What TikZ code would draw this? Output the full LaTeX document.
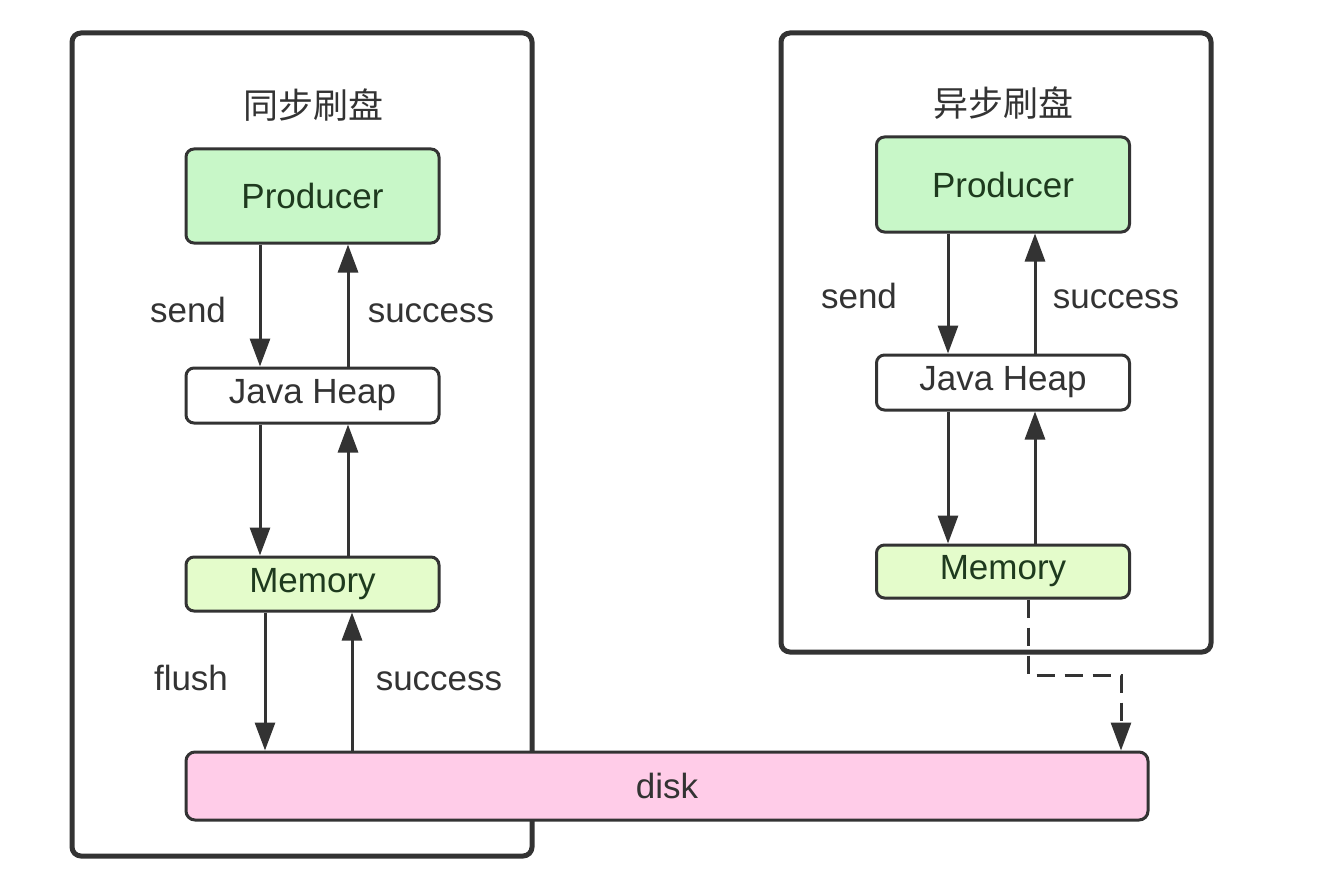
\documentclass[tikz,border=0pt]{standalone}
\usepackage{fontspec}
\setmainfont{Liberation Sans}
\newfontfamily\cjk{Noto Sans CJK SC}
\usetikzlibrary{arrows.meta}
\definecolor{edge}{HTML}{333333}
\definecolor{prodfill}{HTML}{C8F7C8}
\definecolor{memfill}{HTML}{E4FCCB}
\definecolor{diskfill}{HTML}{FFCCE8}
\definecolor{txtgreen}{HTML}{1E3A1E}
\definecolor{txtgray}{HTML}{333333}
\begin{document}
\begin{tikzpicture}[x=1pt,y=-1pt,
  font=\fontsize{35}{41}\selectfont,
  outer/.style={draw=edge,line width=5pt,rounded corners=9pt,fill=none,inner sep=0pt},
  box/.style={draw=edge,line width=3pt,rounded corners=8pt,inner sep=0pt,minimum width=253pt},
  prod/.style={box,fill=prodfill,text=txtgreen,minimum height=94pt},
  heap/.style={box,fill=white,text=txtgray,minimum height=55pt},
  mem/.style={box,fill=memfill,text=txtgreen,minimum height=54pt},
  lbl/.style={text=txtgray,inner sep=0pt,anchor=base},
  ttl/.style={text=txtgray,inner sep=0pt,font=\cjk\fontsize{35}{41}\selectfont},
  arr/.style={draw=edge,line width=3pt,-{Triangle[length=28pt,width=20pt]}},
  dasharr/.style={arr,dash pattern=on 18pt off 10pt}
]
\useasboundingbox (0,0) rectangle (1318,880);
\fill[white] (0,0) rectangle (1318,880);

% outer boxes
\node[outer,minimum width=460pt,minimum height=823pt] (lbox) at (302,444.5) {};
\node[outer,minimum width=430pt,minimum height=619pt] (rbox) at (996,342.5) {};

% titles
\node[ttl] (lt) at (313,105) {同步刷盘};
\node[ttl] (rt) at (1003,103) {异步刷盘};

% left column
\node[prod] (lp) at (312.5,196) {Producer};
\node[heap] (lh) at (312.5,395.5) {Java Heap};
\node[mem] (lm) at (312.5,584) {Memory};

% right column
\node[prod,minimum height=95pt] (rp) at (1003,184.5) {Producer};
\node[heap] (rh) at (1003,382.5) {Java Heap};
\node[mem,minimum height=53pt] (rm) at (1003,571.5) {Memory};

% disk
\node[box,fill=diskfill,text=txtgray,minimum width=962pt,minimum height=68pt,rounded corners=9pt] (disk) at (667,786) {disk};

% left arrows
\draw[arr] ([xshift=-52.5pt]lp.south) -- ([xshift=-52.5pt]lh.north);
\draw[arr] ([xshift=35.5pt]lh.north) -- ([xshift=35.5pt]lp.south);
\draw[arr] ([xshift=-52.5pt]lh.south) -- ([xshift=-52.5pt]lm.north);
\draw[arr] ([xshift=35.5pt]lm.north) -- ([xshift=35.5pt]lh.south);
\draw[arr] ([xshift=-47.5pt]lm.south) -- ([xshift=-47.5pt]lm.south |- disk.north);
\draw[arr] ([xshift=39.5pt]lm.south |- disk.north) -- ([xshift=39.5pt]lm.south);

% right arrows
\draw[arr] ([xshift=-55pt]rp.south) -- ([xshift=-55pt]rh.north);
\draw[arr] ([xshift=32pt]rh.north) -- ([xshift=32pt]rp.south);
\draw[arr] ([xshift=-55pt]rh.south) -- ([xshift=-55pt]rm.north);
\draw[arr] ([xshift=32pt]rm.north) -- ([xshift=32pt]rh.south);

% dashed async flush
\coordinate (d1) at (1028,675);
\coordinate (d2) at (1121,675);
\draw[dasharr] ([xshift=25pt]rm.south) -- (d1) -- (d2) -- (d2 |- disk.north);

% labels
\node[lbl] (l1) at (188,322) {send};
\node[lbl] (l2) at (431,322) {success};
\node[lbl] (l3) at (191,690) {flush};
\node[lbl] (l4) at (439,690) {success};
\node[lbl] (l5) at (859,308) {send};
\node[lbl] (l6) at (1116,308) {success};
\end{tikzpicture}
\end{document}
